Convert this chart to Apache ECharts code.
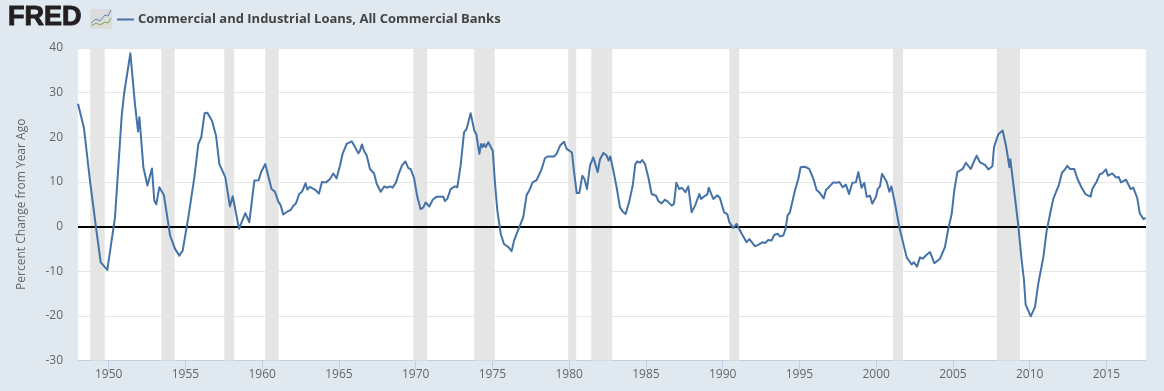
<!DOCTYPE html>
<html>
<head>
<meta charset="utf-8">
<title>Commercial and Industrial Loans, All Commercial Banks</title>
<script src="https://cdn.jsdelivr.net/npm/echarts@6/dist/echarts.min.js"></script>
<style>
    html, body { margin: 0; padding: 0; background: #e1e9f0; }
    #chart { width: 1164px; height: 391px; }
</style>
</head>
<body>
<div id="chart"></div>
<script>
// values
var seriesName = 'Commercial and Industrial Loans, All Commercial Banks'
var yAxisName = 'Percent Change from Year Ago'
var yearTicks = [1950,1955,1960,1965,1970,1975,1980,1985,1990,1995,2000,2005,2010,2015]

var years = [
    1948.00,1948.39,1948.78,1949.17,1949.48,1949.91,1950.41,1950.84,1951.00,1951.41,1951.71,1951.91,
    1952.00,1952.26,1952.52,1952.82,1952.97,1953.10,1953.30,1953.60,1954.00,1954.32,1954.60,1954.82,
    1955.19,1955.58,1955.84,1956.03,1956.25,1956.43,1956.73,1956.99,1957.21,1957.60,1957.90,1958.08,
    1958.49,1958.62,1958.90,1959.16,1959.49,1959.77,1959.94,1960.20,
    1960.61,1960.83,1961.05,1961.20,1961.37,1961.70,1961.85,1962.02,1962.20,1962.41,1962.59,1962.83,
    1962.94,1963.11,1963.43,1963.70,1963.89,1964.15,1964.41,1964.63,1964.85,
    1965.07,1965.24,1965.50,1965.83,1966.05,1966.26,1966.37,1966.50,1966.63,1966.81,1967.02,1967.29,
    1967.46,1967.72,1967.85,1967.96,1968.11,1968.33,1968.50,1968.72,1968.87,1968.98,1969.11,1969.33,
    1969.52,1969.67,1969.89,1970.11,1970.32,1970.50,1970.65,1970.89,1971.11,1971.37,1971.48,1971.80,
    1971.91,1972.06,1972.28,1972.56,1972.71,1972.93,1973.15,1973.32,1973.58,1973.82,1973.95,1974.15,
    1974.26,1974.36,1974.45,1974.56,1974.73,1974.86,1975.02,1975.17,1975.32,1975.54,1975.75,1976.04,
    1976.15,1976.25,1976.41,1976.75,1977.01,1977.23,1977.40,1977.62,1977.88,1978.21,1978.42,1978.58,
    1978.75,1978.86,1979.01,1979.18,1979.40,1979.66,1979.84,1979.95,1980.18,1980.31,1980.49,1980.66,
    1980.86,1980.99,1981.16,1981.36,1981.57,1981.86,1982.01,1982.23,1982.44,1982.57,1982.68,1982.88,
    1983.09,1983.31,1983.48,1983.57,1983.68,1983.92,1984.14,1984.31,1984.44,1984.61,
    1984.76,1984.94,1985.16,1985.37,1985.66,1985.81,1986.02,1986.24,1986.39,1986.68,1986.83,1986.98,
    1987.18,1987.35,1987.57,1987.76,1987.98,1988.20,1988.48,1988.59,1988.85,1989.00,1989.09,1989.39,
    1989.65,1989.82,1990.09,1990.30,1990.43,1990.69,1990.91,1991.24,1991.56,1991.74,1992.10,1992.32,
    1992.60,1992.76,1992.97,1993.19,1993.36,1993.58,1993.73,1993.95,1994.10,1994.23,1994.38,1994.71,
    1994.93,1995.08,1995.21,1995.36,1995.64,1995.91,1996.12,1996.34,1996.58,1996.73,1996.88,1996.95,
    1997.21,1997.43,1997.60,1997.82,1998.03,1998.23,1998.45,1998.68,1998.84,1999.05,1999.23,1999.38,
    1999.60,1999.75,1999.99,2000.10,2000.25,2000.38,2000.47,2000.68,2000.86,2000.99,2001.23,2001.51,
    2001.59,2001.72,2001.99,2002.09,2002.31,2002.46,2002.66,2002.86,2003.03,2003.29,2003.51,2003.79,
    2004.16,2004.27,2004.48,2004.70,2004.92,2005.09,2005.29,2005.64,2005.85,2006.16,2006.40,2006.55,
    2006.76,2007.09,2007.31,2007.57,2007.68,2007.96,2008.07,2008.24,2008.46,2008.68,2008.74,2009.04,
    2009.26,2009.48,2009.63,2009.74,2010.07,2010.35,2010.56,2010.89,2011.11,2011.33,2011.54,2011.91,
    2012.11,2012.26,2012.45,2012.63,2012.91,2013.11,2013.39,2013.65,2013.97,2014.08,2014.37,2014.58,
    2014.73,2014.97,2015.10,2015.39,2015.62,2015.80,2015.95,2016.28,2016.58,2016.75,2017.01,2017.17,
    2017.41,2017.56
]

var values = [
    27.5,22,10.3,-0.1,-8,-9.7,2,24.5,29.7,38.8,27.5,21.3,
    24.5,13.3,9.2,13,5.8,5,8.8,7,-2,-5,-6.5,-5.4,
    2.1,11,18.5,20,25.4,25.5,23.7,20.4,14,11,4.5,6.8,
    -0.5,-0.6,3,1,10.3,10.4,12.3,14,
    8.4,7.8,5.6,4.8,2.7,3.5,3.7,4.6,5.2,7.3,7.8,9.7,
    8.3,8.9,8.3,7.4,10,9.9,10.6,11.9,10.8,
    13.7,16.3,18.5,19.1,17.8,16.4,17,18.4,17,15.9,12.9,11.9,
    9.6,7.8,8,9,8.7,9,8.7,9.9,11.6,11.8,13.7,14.6,
    13.1,12.9,10.9,6.6,3.9,4.3,5.4,4.5,6,6.7,6.3,6.7,
    5.7,6.2,8.4,9,8.8,13.7,21.1,21.9,25.4,21.5,20.7,16.3,
    18.5,17.8,18.5,17.8,18.9,18.9,17,9.6,3.6,-1.6,-3.9,-4.6,
    -4.4,-5.5,-3.1,-0.1,2.1,7.1,8.1,9.9,10.4,12.9,15.3,15.7,
    15.7,16,15.7,16.3,18.1,19,17.4,17.8,16.6,12.5,7.5,7.5,
    11.4,10.7,8.4,13.7,15.5,12.2,15.1,16.5,15.9,14.8,15.7,12.5,
    8.8,4.3,3.4,3.7,2.8,5.7,9.2,14,14.6,14.3,
    14.9,14,11,7.3,6.9,5.7,5.2,6,5.7,4.7,5.1,9.8,
    8.4,8.7,7.7,9,3.2,4.7,7.3,6.2,6.9,7.2,8.7,6.2,
    7,6.4,3.2,2.8,1,-0.3,0.6,-1.6,-3.5,-2.8,-4.4,-4.1,
    -3.5,-3.7,-3,-3.1,-1.9,-1.6,-2.2,-2,-0.5,2.5,3.2,8.1,
    10.7,13.3,12.9,13.4,12.9,10.7,8.2,7.5,6.3,8.2,8.7,8.4,
    9.9,9.8,10,8.8,9.4,7.3,9.8,9.9,12.2,8.7,9.8,6.7,
    6.9,5.1,6.7,8.4,9,11.8,11.9,10.1,7.8,9,5.1,-0.1,
    -1.3,-1.5,-6.9,-7.2,-8.5,-8,-9,-6.9,-7.2,-6.3,-5.7,-8.2,
    -7.2,-7.6,-4.6,-0.5,2.8,8.1,12.2,12.9,14.3,12.9,14.8,15.9,
    14.4,13.8,12.8,13.5,17.8,20.7,20.3,21.5,18.1,13.3,15.1,6.6,
    0.2,-7.6,-12,-17.5,-20.1,-18,-12.8,-6.9,-0.9,2.8,6.2,9.4,
    12.1,12.6,13.6,12.9,12.9,10.7,8.7,7.2,6.7,8.4,10.1,11.8,
    11.9,12.8,11.4,11.9,11,11.1,9.9,10.5,8.4,8.7,6.4,3,
    1.7,1.9
]

var recessionStart = [1948.80,1953.43,1957.53,1960.20,1969.84,1973.82,1979.94,1981.44,1990.44,2001.10,2007.87]
var recessionEnd   = [1949.74,1954.30,1958.18,1961.07,1970.75,1975.15,1980.46,1982.80,1991.07,2001.75,2009.37]

var lineData = []
for(var i = 0; i < years.length; i ++){
    lineData.push([years[i], values[i]])
}

var bands = []
for(var j = 0; j < recessionStart.length; j ++){
    bands.push([{ xAxis: recessionStart[j] }, { xAxis: recessionEnd[j] }])
}

var option = {
    animation: false,
    backgroundColor: '#e1e9f0',
    textStyle: { fontFamily: '"Open Sans", sans-serif' },
    grid: {
        left: 78, right: 18, top: 48, bottom: 30.5,
        show: true, backgroundColor: '#ffffff', borderWidth: 0
    },
    legend: {
        left: 112, top: 8,
        itemWidth: 17, itemHeight: 2,
        itemGap: 5,
        icon: 'rect',
        data: [seriesName],
        textStyle: { color: '#444444', fontSize: 13, fontWeight: 'bold', padding: [0, 0, 0, -1], fontFamily: '"Open Sans", sans-serif' }
    },
    xAxis: {
        type: 'value',
        min: 1948, max: 2017.58,
        axisLine: { show: true, onZero: false, lineStyle: { color: '#c0d0e0', width: 1 } },
        axisTick: { show: true, length: 10, customValues: yearTicks, lineStyle: { color: '#c0d0e0' } },
        axisLabel: {
            color: '#666666', fontSize: 12, margin: 8,
            customValues: yearTicks,
            formatter: function(v){ return String(v) }
        },
        splitLine: { show: false }
    },
    yAxis: {
        type: 'value',
        min: -30, max: 40, interval: 10,
        name: yAxisName,
        nameLocation: 'middle',
        nameGap: 50,
        nameTextStyle: { color: '#666666', fontSize: 12 },
        axisLine: { show: false },
        axisTick: { show: false },
        axisLabel: { color: '#666666', fontSize: 12, margin: 15, padding: [2, 0, 0, 0] },
        splitLine: { lineStyle: { color: '#e6e6e6', width: 1 } }
    },
    series: [
        {
            name: 'recessions',
            type: 'line',
            data: [],
            silent: true,
            markArea: {
                silent: true,
                itemStyle: { color: '#e5e5e5' },
                data: bands
            }
        },
        {
            name: seriesName,
            type: 'line',
            data: lineData,
            showSymbol: false,
            color: '#4572a7',
            lineStyle: { width: 2, color: '#4572a7', join: 'round' },
            z: 5,
            markLine: {
                silent: true,
                symbol: 'none',
                label: { show: false },
                lineStyle: { color: '#000000', width: 2, type: 'solid' },
                data: [{ yAxis: 0 }]
            }
        }
    ],
    graphic: [
        {
            type: 'text', x: 8, y: 4,
            style: {
                text: 'FRED', fill: '#231f20', stroke: '#231f20', lineWidth: 1,
                font: 'bold 27px "Liberation Sans", Arial, sans-serif'
            }
        },
        {
            type: 'rect', shape: { x: 90, y: 9, width: 22, height: 20, r: 2 },
            style: { fill: '#dcdcdc' }
        },
        {
            type: 'polyline', shape: { points: [[91,23],[96,19],[100,21],[105,15],[108,16],[111,10]] },
            style: { stroke: '#5b87b2', lineWidth: 1, fill: null }
        },
        {
            type: 'polyline', shape: { points: [[91,26],[96,23],[100,25],[105,22],[108,23],[111,18]] },
            style: { stroke: '#7fa650', lineWidth: 1, fill: null }
        }
    ]
}

var myChart = echarts.init(document.getElementById('chart'), null, { renderer: 'canvas' })
myChart.setOption(option)
</script>
</body>
</html>
